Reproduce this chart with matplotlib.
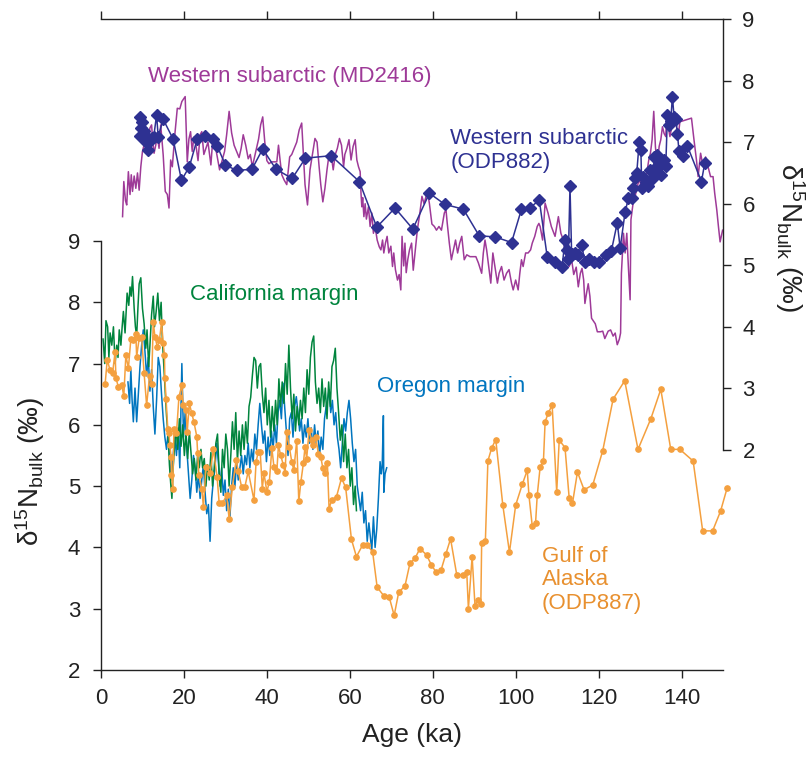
import matplotlib
matplotlib.use("Agg")
import matplotlib.pyplot as plt

# ---- data: Western subarctic MD2416 (upper axis) ----
md2416_age = [5.2, 5.5, 5.9, 6.2, 6.6, 7.0, 7.3, 7.6, 8.0, 8.4, 8.8, 9.2, 9.6, 10.0, 10.6, 11.0,
              11.4, 11.8, 12.2, 12.5, 12.8, 13.2, 13.6, 14.0, 14.4, 15.0, 15.5, 16.0, 16.4, 16.8,
              17.2, 17.8, 18.4, 19.0, 19.5, 20.3, 20.8, 21.2, 21.6, 22.0, 22.4, 22.9, 23.4, 23.9,
              24.3, 24.8, 25.3, 25.8, 26.5, 26.9, 27.4, 27.8, 28.2, 28.6, 29.2, 29.8, 30.3, 30.9,
              31.5, 32.1, 32.7, 33.3, 33.8, 34.3, 34.9, 35.5, 36.0, 36.5, 37.0, 37.5, 38.0, 38.5,
              39.0, 39.5, 40.0, 40.5, 41.2, 41.9, 42.4, 42.8, 43.2, 43.6, 44.2, 44.8, 45.5, 46.0,
              46.6, 47.2, 47.8, 48.4, 48.8, 49.2, 49.8, 50.4, 51.0, 51.6, 52.1, 52.6, 53.0, 53.5,
              54.0, 54.5, 55.0, 55.6, 56.0, 56.5, 57.0, 57.5, 58.0, 58.5, 58.8, 59.3, 59.8, 60.3,
              60.8, 61.3, 61.7, 62.1, 62.5, 62.7, 62.9, 63.1, 63.4, 63.7, 64.0, 64.5, 64.9, 65.3,
              65.7, 66.1, 66.6, 67.1, 67.5, 67.9, 68.2, 68.6, 69.0, 69.4, 69.9, 70.3, 70.6, 71.0,
              71.5, 71.9, 72.3, 72.6, 73.0, 73.3, 73.6, 74.0, 74.4, 74.9, 75.3, 75.8, 76.3, 76.9,
              77.4, 77.9, 78.4, 78.8, 79.2, 79.8, 80.4, 80.9, 81.5, 82.1, 82.8, 83.2, 83.5, 84.0,
              84.5, 85.0, 85.5, 86.0, 86.5, 87.0, 87.6, 88.2, 89.0, 89.8, 90.4, 91.0, 91.8, 92.2,
              92.6, 93.0, 93.5, 94.0, 94.5, 95.1, 95.6, 96.0, 96.6, 97.2, 97.8, 98.4, 99.0, 99.4,
              100.0, 100.6, 101.0, 101.4, 101.8, 102.4, 103.0, 103.6, 104.0, 104.6, 105.2, 105.6,
              105.9, 106.5, 107.1, 107.8, 108.6, 109.5, 110.3, 110.9, 111.5, 112.0, 112.9, 113.5,
              114.0, 114.6, 115.1, 115.6, 116.0, 116.4, 116.7, 117.1, 117.5, 117.9, 118.3, 118.7,
              119.2, 119.7, 120.4, 121.0, 121.5, 122.3, 122.9, 123.5, 124.0, 124.5, 125.0, 125.3,
              125.5, 126.0, 126.4, 126.8, 127.2, 127.6, 127.8, 128.3, 128.9, 129.4, 129.9, 130.4,
              130.9, 131.5, 132.1, 132.5, 132.9, 133.3, 133.7, 134.1, 134.6, 135.0, 135.4, 135.8,
              136.2, 136.4, 136.8, 137.2, 137.8, 138.3, 138.7, 139.1, 139.6, 142.4, 143.0, 143.6,
              144.0, 144.6, 145.2, 145.8, 146.4, 147.0, 147.6, 148.0, 148.5, 148.9, 149.3, 149.9]
md2416_d15n = [5.79, 6.36, 6.05, 5.98, 6.52, 6.15, 6.47, 6.20, 6.45, 6.25, 6.50, 6.22, 6.60, 6.85, 7.01, 6.95,
               7.05, 7.23, 7.28, 7.00, 6.82, 6.95, 7.10, 6.90, 7.28, 6.79, 6.20, 6.15, 5.93, 6.71,
               6.60, 7.12, 7.55, 7.54, 7.66, 7.74, 6.68, 7.05, 7.17, 6.85, 7.08, 6.95, 6.70, 7.12,
               7.17, 6.80, 6.90, 7.00, 6.63, 7.00, 6.98, 6.85, 6.70, 6.55, 6.70, 6.85, 7.12, 7.50,
               7.15, 6.95, 6.85, 6.75, 6.90, 7.12, 6.95, 6.73, 6.80, 6.60, 6.75, 6.90, 7.05, 7.28,
               7.41, 7.00, 6.70, 6.65, 6.68, 6.68, 6.68, 6.95, 6.70, 6.47, 6.38, 6.31, 6.76, 6.80,
               6.90, 7.00, 7.20, 7.31, 6.80, 6.31, 5.98, 6.55, 6.80, 7.06, 7.00, 6.60, 6.31, 6.03,
               6.25, 6.55, 6.80, 6.75, 6.55, 6.80, 6.90, 7.06, 6.95, 6.60, 6.80, 6.90, 7.04, 6.71,
               6.93, 7.04, 6.71, 6.60, 6.52, 6.17, 5.95, 6.10, 5.79, 6.00, 5.75, 5.95, 5.63, 5.85,
               5.52, 5.63, 5.41, 5.30, 5.25, 5.41, 5.20, 5.36, 5.47, 5.20, 5.31, 4.98, 5.20, 4.93,
               4.76, 4.85, 4.60, 5.47, 4.99, 5.36, 4.88, 5.10, 5.25, 5.36, 4.92, 5.25, 5.58, 5.85,
               6.12, 6.00, 6.12, 6.17, 6.00, 5.67, 5.63, 5.57, 5.63, 5.57, 5.85, 5.90, 5.68, 5.36,
               5.09, 5.25, 5.41, 5.20, 5.36, 5.47, 5.09, 5.17, 5.14, 5.14, 5.14, 5.04, 4.87, 5.20,
               5.41, 5.25, 4.98, 4.71, 5.20, 4.93, 4.71, 4.87, 4.98, 4.76, 4.87, 4.93, 4.71, 4.60,
               4.76, 4.60, 4.87, 5.09, 4.98, 5.20, 5.20, 5.25, 5.36, 5.47, 5.63, 5.68,
               5.63, 5.41, 6.01, 5.85, 5.63, 5.47, 5.79, 5.52, 5.41, 5.20, 4.98, 5.09,
               4.85, 4.97, 4.65, 4.87, 4.95, 4.76, 4.38, 4.55, 4.70, 4.50, 4.14, 4.10,
               4.05, 3.92, 3.92, 3.93, 3.81, 3.93, 3.95, 3.85, 3.90, 3.71, 3.80, 3.90,
               4.87, 5.52, 5.20, 5.52, 4.95, 4.44, 5.74, 6.00, 6.15, 6.30, 6.41, 6.20,
               6.41, 6.45, 6.71, 6.82, 7.04, 7.50, 6.93, 6.60, 6.93, 7.04, 7.25, 7.14,
               7.09, 7.47, 7.25, 7.09, 7.30, 7.35, 7.33, 7.03, 7.33, 7.39, 7.04, 6.71,
               6.44, 6.82, 6.60, 6.76, 6.60, 6.44, 6.44, 6.17, 5.90, 5.63, 5.38, 5.57]

# ---- data: Western subarctic ODP882 (upper axis) ----
odp882_age = [9.4, 9.6, 10.0, 9.5, 10.3, 10.6, 10.9, 11.4, 11.7, 12.2, 12.7, 13.4, 13.8, 15.0,
              17.4, 19.4, 21.3, 23.2, 25.0, 26.9, 28.0, 30.0, 32.7, 36.4, 39.0, 42.2, 46.1, 49.3,
              55.5, 62.3, 66.5, 70.9, 75.2, 79.2, 82.9, 87.4, 91.2, 95.1, 99.0, 101.4, 103.4,
              105.7, 107.6, 109.6, 111.2, 111.9, 112.3, 112.7, 113.1, 113.5, 114.3, 115.1, 115.9,
              116.7, 117.8, 118.9, 120.2, 121.8, 123.1, 124.5, 125.2, 126.4, 127.2, 128.0, 128.4,
              128.8, 129.2, 129.8, 130.2, 130.4, 130.8, 131.4, 132.0, 132.5, 132.8, 133.2, 133.4,
              133.8, 134.1, 134.6, 135.0, 135.4, 135.8, 136.2, 136.6, 136.9, 137.4, 137.8, 138.2,
              138.6, 139.0, 139.4, 140.3, 141.4, 144.8, 145.6]
odp882_d15n = [7.41, 7.23, 7.33, 7.10, 7.18, 7.12, 7.00, 6.88, 7.02, 7.06, 7.08, 7.44, 7.09, 7.37,
               7.05, 6.38, 6.60, 7.05, 7.10, 7.05, 6.94, 6.63, 6.54, 6.56, 6.89, 6.56, 6.41, 6.74,
               6.78, 6.36, 5.62, 5.93, 5.59, 6.17, 5.99, 5.91, 5.48, 5.46, 5.37, 5.91, 5.93,
               6.06, 5.14, 5.06, 4.98, 5.41, 5.25, 5.11, 6.28, 5.18, 5.20, 5.17, 5.33,
               5.06, 5.10, 5.06, 5.06, 5.17, 5.24, 5.69, 5.28, 5.87, 6.09, 6.10, 6.25,
               6.41, 6.50, 7.01, 6.87, 6.25, 6.44, 6.35, 6.28, 6.55, 6.40, 6.44, 6.76,
               6.60, 6.79, 6.62, 6.47, 6.70, 6.71, 6.62, 7.44, 7.28, 7.35, 7.74, 7.41,
               7.38, 7.14, 6.85, 6.78, 6.94, 6.36, 6.66]

# ---- data: California margin (lower axis) ----
calif_age = [0.5, 0.9, 1.2, 1.6, 1.9, 2.2, 2.6, 3.0, 3.4, 3.8, 4.1, 4.4, 4.8, 5.1, 5.4, 5.8, 6.1,
             6.3, 6.7, 7.0, 7.3, 7.6, 8.0, 8.3, 8.6, 8.9, 9.2, 9.6, 10.0, 10.4, 10.8, 11.1, 11.5,
             11.8, 12.2, 12.6, 12.9, 13.3, 13.7, 14.1, 14.5, 14.8, 15.2, 15.5, 15.8, 16.2, 16.5,
             16.8, 17.1, 17.4, 17.8, 18.1, 18.5, 18.9, 19.3, 19.7, 20.1, 20.5, 20.9, 21.3, 21.7,
             22.1, 22.5, 22.9, 23.3, 23.7, 24.1, 24.5, 24.9, 25.3, 25.7, 26.1, 26.5, 26.9, 27.3,
             27.7, 28.1, 28.5, 28.9, 29.3, 29.7, 30.1, 30.5, 30.9, 31.3, 31.7, 32.1, 32.5, 32.9,
             33.3, 33.7, 34.1, 34.5, 34.9, 35.3, 35.7, 36.1, 36.5, 36.9, 37.3, 37.7, 38.1, 38.5,
             38.9, 39.3, 39.7, 40.1, 40.5, 40.9, 41.3, 41.7, 42.1, 42.5, 42.9, 43.3, 43.7, 44.1,
             44.5, 44.9, 45.3, 45.7, 46.1, 46.5, 46.9, 47.3, 47.7, 48.1, 48.5, 48.9, 49.3, 49.7,
             50.1, 50.5, 50.9, 51.3, 51.7, 52.1, 52.5, 52.9, 53.3, 53.7, 54.1, 54.5, 54.9, 55.3,
             55.7, 56.1, 56.5, 56.9, 57.3, 57.7, 58.1, 58.5, 58.9, 59.3, 59.7, 60.1, 60.5, 60.9,
             61.3, 61.6]
calif_d15n = [7.4, 7.0, 7.7, 7.6, 7.1, 7.5, 7.3, 7.6, 7.0, 7.3, 7.1, 7.55, 7.3, 7.6, 7.85, 7.5, 7.9,
              8.15, 7.95, 8.25, 8.1, 8.42, 7.9, 7.6, 7.45, 7.9, 8.3, 8.4, 7.9, 7.65, 7.25, 7.55, 6.95,
              7.3, 7.8, 8.1, 7.6, 7.85, 8.15, 7.7, 8.0, 7.4, 6.9, 6.55, 6.15, 5.8, 5.35,
              5.05, 4.8, 5.3, 5.7, 5.95, 5.6, 6.1, 5.65, 6.0, 5.5, 5.85, 5.45, 5.9, 5.55,
              5.2, 5.45, 5.1, 5.5, 5.3, 5.6, 5.3, 5.45, 5.0, 5.35, 5.1, 5.55, 5.0, 5.3,
              5.7, 5.85, 5.2, 4.9, 5.6, 5.3, 5.85, 5.6, 5.0, 5.5, 6.05, 5.6, 6.2, 5.4,
              5.9, 5.5, 6.0, 5.6, 6.05, 5.7, 6.3, 6.45, 6.8, 7.1, 7.05, 6.6, 6.95, 7.0,
              6.5, 6.2, 6.6, 6.0, 6.4, 5.8, 6.3, 5.9, 6.4, 6.0, 6.75, 6.3, 6.7, 6.35,
              7.0, 6.5, 7.3, 6.6, 6.1, 6.5, 5.9, 6.3, 6.0, 6.4, 6.1, 6.6, 6.2, 6.9,
              6.5, 7.1, 7.35, 7.45, 6.7, 6.35, 6.6, 6.2, 6.75, 6.3, 6.6, 6.1, 6.7, 6.3,
              6.95, 7.05, 7.25, 6.6, 6.2, 5.75, 6.0, 5.4, 5.85, 5.3, 5.6, 5.0, 5.3, 4.7,
              5.0, 4.6]

# ---- data: Oregon margin (lower axis) ----
oregon_age = [6.5, 6.9, 7.2, 7.5, 7.8, 8.2, 8.6, 9.0, 9.4, 9.8, 10.2, 10.6, 11.0, 11.4, 11.8, 12.2,
              12.6, 13.0, 13.4, 13.8, 14.2, 14.6, 15.0, 15.4, 15.8, 16.2, 16.6, 17.0, 17.4, 17.8,
              18.2, 18.6, 19.0, 19.5, 19.9, 20.3, 20.7, 21.1, 21.5, 21.9, 22.3, 22.7, 23.1, 23.5,
              23.9, 24.3, 24.7, 25.1, 25.5, 25.9, 26.3, 26.7, 27.1, 27.5, 27.9, 28.3, 28.7, 29.1,
              29.5, 29.9, 30.3, 30.7, 31.1, 31.5, 31.9, 32.3, 32.7, 33.1, 33.5, 33.9, 34.3, 34.7,
              35.1, 35.5, 35.9, 36.3, 36.7, 37.1, 37.5, 37.9, 38.3, 38.7, 39.1, 39.5, 39.9, 40.3,
              40.7, 41.1, 41.5, 41.9, 42.3, 42.7, 43.1, 43.5, 43.9, 44.3, 44.7, 45.1, 45.5, 45.9,
              46.3, 46.7, 47.1, 47.5, 47.9, 48.3, 48.7, 49.1, 49.5, 49.9, 50.3, 50.7, 51.1, 51.5,
              51.9, 52.3, 52.7, 53.1, 53.5, 53.9, 54.3, 54.6, 55.0, 55.4, 55.8, 56.2, 56.6, 57.0,
              57.4, 57.8, 58.2, 58.6, 59.0, 59.4, 59.8, 60.2, 60.6, 61.0, 61.4, 61.8, 62.2, 62.6,
              63.0, 63.4, 63.8, 64.2, 64.6, 64.9, 65.3, 65.7, 66.1, 66.5, 66.9, 67.3, 67.6, 67.8,
              68.1, 68.2, 68.5, 68.9]
oregon_d15n = [6.7, 6.35, 6.9, 6.4, 6.05, 6.6, 6.05, 6.5, 6.95, 7.3, 7.55, 7.2, 6.8, 7.1, 6.55, 6.9,
               6.3, 5.85, 6.4, 7.1, 6.95, 6.5, 6.1, 5.8, 5.6, 5.9, 5.4, 5.1, 5.5, 5.8,
               5.5, 5.95, 5.3, 7.0, 5.8, 6.2, 5.6, 5.2, 4.8, 5.1, 5.5, 5.3, 4.9, 5.2,
               4.8, 5.1, 5.35, 4.9, 4.55, 4.7, 4.1, 4.8, 5.1, 5.3, 5.7, 5.4, 5.0, 5.3,
               4.85, 5.1, 4.6, 4.95, 4.5, 5.0, 5.3, 5.0, 5.4, 5.1, 5.3, 5.5, 5.2, 5.5,
               5.35, 5.7, 5.3, 5.6, 5.4, 5.85, 5.6, 6.0, 6.35, 6.0, 5.7, 5.9, 5.4, 5.8,
               5.5, 5.9, 5.6, 6.0, 5.7, 6.2, 6.4, 6.1, 6.68, 6.3, 5.9, 5.5, 6.1, 6.2,
               5.8, 6.3, 6.46, 6.2, 5.9, 6.1, 5.7, 6.0, 5.8, 6.1, 5.7, 5.95, 5.6, 6.0,
               5.7, 5.9, 5.5, 5.8, 5.6, 6.1, 6.3, 6.4, 6.57, 6.2, 6.4, 6.0, 6.2, 5.8,
               5.6, 5.3, 5.7, 6.1, 5.9, 6.2, 6.4, 6.1, 5.7, 5.4, 5.6, 5.0, 4.8, 4.6,
               4.9, 4.4, 4.6, 4.1, 4.4, 4.2, 3.95, 4.5, 4.0, 4.3, 4.8, 5.4, 5.2, 5.3,
               6.15, 4.9, 5.2, 5.3]

# ---- data: Gulf of Alaska ODP887 (lower axis) ----
goa_age = [1.0, 1.5, 2.2, 2.8, 3.4, 3.6, 4.2, 5.0, 5.5, 6.0, 6.6, 7.2, 7.8, 8.4, 8.6, 9.2, 9.8,
           10.4, 11.0, 11.7, 12.2, 12.6, 13.0, 13.6, 14.1, 14.6, 15.0, 15.3, 15.4, 15.7, 16.1,
           16.4, 16.6, 16.9, 17.0, 17.3, 17.6, 18.2, 18.8, 19.5, 19.8, 20.5, 20.8, 21.3, 21.9,
           22.4, 23.1, 23.3, 23.6, 24.3, 24.7, 25.3, 26.3, 27.1, 28.0, 28.5, 29.3, 30.3, 30.9,
           31.7, 32.6, 33.1, 33.9, 34.7, 35.5, 36.9, 37.4, 37.9, 38.4, 38.9, 39.3, 40.0, 40.6,
           41.2, 41.7, 42.4, 42.8, 43.3, 44.0, 44.4, 44.8, 45.4, 46.0, 46.5, 47.2, 47.7, 48.2,
           48.8, 49.2, 49.6, 50.2, 50.8, 51.2, 51.8, 52.4, 53.0, 53.5, 54.0, 54.6, 55.0, 55.6,
           56.8, 58.0, 59.0, 60.4, 61.6, 63.1, 64.1, 65.5, 66.6, 68.2, 69.5, 70.7, 71.8, 73.3,
           74.5, 75.7, 76.9, 78.5, 79.7, 80.8, 82.0, 83.2, 84.3, 85.8, 87.2, 88.2, 88.6, 89.5,
           90.2, 90.8, 91.6, 91.8, 92.7, 93.3, 94.2, 95.2, 96.9, 98.5, 100.0, 101.6, 102.8,
           103.2, 104.0, 104.8, 105.2, 105.9, 106.7, 107.1, 107.9, 108.8, 109.9, 110.5, 111.9,
           112.9, 113.7, 114.9, 116.5, 118.6, 121.0, 123.5, 126.3, 129.5, 132.6, 135.0, 137.4,
           139.6, 142.8, 145.1, 147.5, 149.4, 151.0]
goa_d15n = [6.67, 7.06, 6.89, 6.85, 7.19, 6.76, 6.62, 6.65, 6.47, 7.14, 6.92, 7.40, 7.38, 7.48, 7.11,
            7.41, 7.43, 6.84, 6.32, 6.79, 6.67, 7.68, 7.44, 7.27, 7.38, 7.68, 7.33, 7.14, 6.76,
            6.42, 5.94, 5.86, 5.67, 5.48, 5.18, 4.96, 5.94, 5.86, 6.46, 6.65, 6.32, 6.24, 5.89,
            6.35, 6.19, 6.05, 5.81, 5.54, 5.18, 4.96, 4.66, 5.32, 5.21, 5.60, 5.15, 4.72, 4.72,
            4.85, 4.47, 4.99, 5.43, 5.24, 4.99, 4.99, 5.24, 4.77, 5.40, 5.55, 5.55, 4.96, 5.21,
            4.91, 5.07, 5.62, 5.32, 5.24, 5.67, 5.51, 5.34, 5.21, 5.89, 5.64, 5.40, 5.26, 5.74,
            4.75, 5.07, 5.37, 5.64, 5.45, 5.92, 5.75, 5.67, 5.81, 5.53, 5.48, 5.29, 5.21, 5.37,
            4.63, 4.77, 4.83, 5.13, 4.98, 4.13, 3.85, 4.04, 4.04, 3.93, 3.35, 3.21, 3.19, 2.89,
            3.27, 3.37, 3.74, 3.82, 3.98, 3.88, 3.71, 3.60, 3.63, 3.90, 4.14, 3.55, 3.55, 3.60,
            3.00, 3.85, 3.04, 3.14, 3.07, 4.08, 4.11, 5.41, 5.62, 5.76, 4.69, 3.92, 4.69, 5.03,
            5.26, 4.85, 4.35, 4.40, 4.85, 5.31, 5.41, 6.05, 6.20, 6.32, 4.90, 5.75, 5.63, 4.81,
            4.72, 5.23, 4.94, 5.02, 5.58, 6.42, 6.72, 5.60, 6.10, 6.58, 5.60, 5.60, 5.41, 4.27,
            4.27, 4.59, 4.97]

purple = "#9E3A98"
navy = "#2E3192"
green = "#00843D"
blue = "#0075BF"
orange = "#F4A03F"
ink = "#222222"

font = ["Liberation Sans", "DejaVu Sans"]
plt.rcParams["font.family"] = font

fig = plt.figure(figsize=(8.1, 7.6), dpi=100)

# lower axes (California, Oregon, Gulf of Alaska)
ax = fig.add_axes([101 / 810, 1 - 670 / 760, 622 / 810, 429 / 760])
# upper axes (Western subarctic records), drawn over the same x range
ax2 = fig.add_axes([101 / 810, 1 - 450 / 760, 622 / 810, 431 / 760])
ax2.patch.set_visible(False)

ax.plot(oregon_age, oregon_d15n, color=blue, lw=1.1, zorder=2)
ax.plot(calif_age, calif_d15n, color=green, lw=1.1, zorder=3)
ax.plot(goa_age, goa_d15n, color=orange, lw=1.1, marker="o", ms=3.8, zorder=4, clip_on=False)

ax2.plot(md2416_age, md2416_d15n, color=purple, lw=1.1, zorder=2)
ax2.plot(odp882_age, odp882_d15n, color=navy, lw=1.1, marker="D", ms=5.8, zorder=3)

for a in (ax, ax2):
    a.set_xlim(0, 150)
    a.set_ylim(2, 9)
    a.set_xticks(range(0, 150, 20))
    a.set_yticks(range(2, 10))
    for sp in a.spines.values():
        sp.set_linewidth(1.0)
        sp.set_color(ink)

ax.spines["top"].set_visible(False)
ax.spines["right"].set_visible(False)
ax.tick_params(direction="out", length=6, width=1.0, labelsize=16, colors=ink)
ax.tick_params(axis="y", pad=9)
ax.tick_params(axis="x", pad=7)

ax2.spines["left"].set_visible(False)
ax2.spines["bottom"].set_visible(False)
ax2.xaxis.tick_top()
ax2.yaxis.tick_right()
ax2.tick_params(axis="x", direction="out", length=6, width=1.0, labeltop=False, colors=ink)
ax2.tick_params(axis="y", direction="out", length=6, width=1.0, labelsize=16, pad=8, colors=ink)

ax.set_xlabel("Age (ka)", fontsize=19, labelpad=10, color=ink)

ylab = r"$\mathregular{\delta^{15}N_{bulk}}$ (‰)"
fig.text(0.037, 0.38, ylab, rotation=90, ha="center", va="center", fontsize=20, color=ink)
fig.text(0.975, 0.687, ylab, rotation=270, ha="center", va="center", fontsize=20, color=ink)

ax2.text(11.3, 8.06, "Western subarctic (MD2416)", color=purple, fontsize=16, va="center")
ax2.text(84.2, 6.87, "Western subarctic\n(ODP882)", color=navy, fontsize=16,
         va="center", linespacing=1.2)
ax.text(21.5, 8.12, "California margin", color=green, fontsize=16, va="center")
ax.text(66.6, 6.62, "Oregon margin", color=blue, fontsize=16, va="center")
ax.text(106.3, 3.47, "Gulf of\nAlaska\n(ODP887)", color="#E8902F", fontsize=16,
        va="center", linespacing=1.15)

fig.savefig("out.png", dpi=100)
